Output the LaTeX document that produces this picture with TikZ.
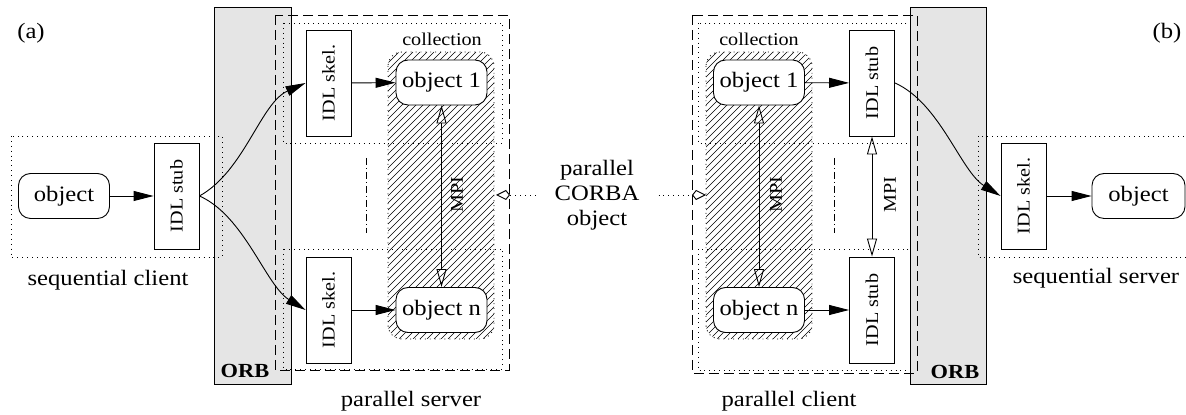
\documentclass[tikz,border=0pt]{standalone}
\usepackage{graphicx}
\usepackage{fontspec}
\setmainfont{Liberation Serif}[FakeStretch=1.12]
\usepackage{tikz}
\usetikzlibrary{arrows.meta}

\begin{document}
\begin{tikzpicture}[
				x=0.5pt, y=-0.5pt,
				line width=0.45pt,
				every node/.style={font=\fontsize{11}{12.5}\selectfont},
				smalltext/.style={font=\fontsize{9}{10}\selectfont},
				orbtext/.style={font=\fontsize{10}{11}\selectfont\bfseries},
				obj/.style={draw, fill=white, rounded corners=6pt, minimum width=45.5pt, minimum height=22.5pt, inner sep=1pt},
				idl/.style={draw, fill=white, minimum width=22.5pt, minimum height=53pt, inner sep=0pt, font=\fontsize{9}{10}\selectfont},
				orb/.style={draw, fill=black!10},
				grp/.style={dotted},
				pargroup/.style={dash pattern=on 5pt off 2.5pt},
				midline/.style={dash pattern=on 3.5pt off 1.5pt on 0.5pt off 1.5pt},
				coll/.style={dotted, rounded corners=7pt},
				hatch/.style={line width=0.3pt},
				call/.style={-{Triangle[length=10pt,width=5pt]}},
				mpi/.style={{Triangle[open,length=9pt,width=5pt]}-{Triangle[open,length=9pt,width=5pt]}},
				link/.style={dotted, -{Kite[open,length=7pt,width=5pt,inset=2pt]}}
				]
				
				\useasboundingbox (0,0) rectangle (1186,415);
				
				% ORBs
				\draw[orb] (214,7) rectangle (291,384);
				\draw[orb] (910,7) rectangle (986,384);
				\node[orbtext] (orbA) at (245,371) {ORB};
				\node[orbtext] (orbB) at (955,372) {ORB};
				
				% (a) sequential client
				\node (tagA) at (31,33) {(a)};
				\draw[grp] (11,136) rectangle (222,257);
				\node (seqCli) at (108,280) {sequential client};
				\node[obj] (objSeqC) at (64,196) {object};
				\node[idl] (stubSeq) at (176.5,196) {\rotatebox{90}{IDL stub}};
				
				% (a) parallel server
				\draw[pargroup] (275,15) rectangle (509,370);
				\draw[grp] (283,23) rectangle (502,143);
				\draw[grp] (283,249) rectangle (502,369);
				\draw[midline] (366,158) -- (366,233);
				
				% Collections (hatched)
				\foreach \cx in {388,706}
				{
					\begin{scope}
						\clip[rounded corners=7pt] (\cx,52) rectangle ++(106,287);
						\foreach \hx in {-290,-283,...,110}
						{
							\draw[hatch] (\cx+\hx,339) -- ++(287,-287);
						}
					\end{scope}
					\draw[coll] (\cx,52) rectangle ++(106,287);
				}
				
				\node[smalltext] (collSrv) at (442,39) {collection};
				\node[idl] (skelSrv1) at (328.5,83) {\rotatebox{90}{IDL skel.}};
				\node[idl] (skelSrvN) at (328.5,310) {\rotatebox{90}{IDL skel.}};
				\node[obj] (objSrv1) at (441.5,82.5) {object 1};
				\node[obj] (objSrvN) at (441.5,310) {object n};
				\node[smalltext, rotate=90] (mpiSrv) at (457,195) {MPI};
				\node (parSrv) at (411,401) {parallel server};
				
				\draw[call] (objSeqC) -- (stubSeq);
				\draw[call] (stubSeq.east) .. controls +(45,-25) and +(-45,20) .. (skelSrv1.west);
				\draw[call] (stubSeq.east) .. controls +(45,20) and +(-40,-25) .. (skelSrvN.west);
				\draw[call] (skelSrv1) -- (objSrv1);
				\draw[call] (skelSrvN) -- (objSrvN);
				\draw[mpi] (objSrv1) -- (objSrvN);
				
				% parallel CORBA object
				\node[align=center] (corba) at (597,195) {parallel\\CORBA\\object};
				\coordinate (srvEdge) at (496,195);
				\coordinate (cliEdge) at (706,195);
				\draw[link] ([xshift=-6pt]corba.west) -- (srvEdge);
				\draw[link] ([xshift=6pt]corba.east) -- (cliEdge);
				
				% (b) parallel client
				\draw[pargroup] (692,15) rectangle (917,373);
				\draw[grp] (698,23) rectangle (910,143);
				\draw[grp] (698,249) rectangle (910,370);
				\draw[midline] (834,158) -- (834,233);
				\node[smalltext] (collCli) at (759,39) {collection};
				\node[obj] (objCli1) at (759,82.5) {object 1};
				\node[obj] (objCliN) at (759,310) {object n};
				\node[idl] (stubCli1) at (872,83) {\rotatebox{90}{IDL stub}};
				\node[idl] (stubCliN) at (872,310) {\rotatebox{90}{IDL stub}};
				\node[smalltext, rotate=90] (mpiCli) at (776,195) {MPI};
				\node[smalltext, rotate=90] (mpiStub) at (890,195) {MPI};
				\node (parCli) at (789,401) {parallel client};
				
				% (b) sequential server
				\node (tagB) at (1167,33) {(b)};
				\draw[grp] (978,136) rectangle (1195,257);
				\node[idl] (skelSeq) at (1023.5,196) {\rotatebox{90}{IDL skel.}};
				\node[obj, minimum width=46.5pt] (objSeqS) at (1138.5,196) {object};
				\node (seqSrv) at (1096,278) {sequential server};
				
				\draw[call] (objCli1) -- (stubCli1);
				\draw[call] (objCliN) -- (stubCliN);
				\draw[mpi] (objCli1) -- (objCliN);
				\draw[mpi] (stubCli1) -- (stubCliN);
				\draw[call] (stubCli1.east) .. controls +(45,20) and +(-40,-25) .. (skelSeq.west);
				\draw[call] (skelSeq) -- (objSeqS);
				
			\end{tikzpicture}
\end{document}
